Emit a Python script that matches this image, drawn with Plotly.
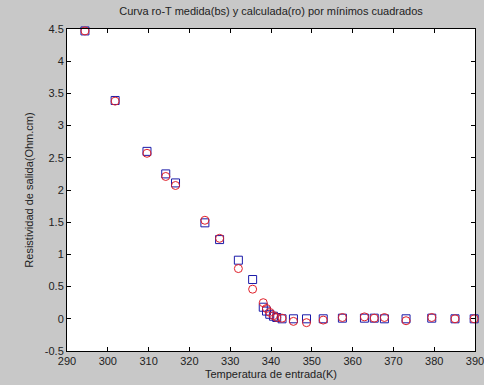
import plotly.graph_objects as go

T = [294.4, 301.8, 309.6, 314.2, 316.6, 323.8, 327.4, 332.0, 335.5, 338.1, 338.9, 339.7,
     340.6, 341.4, 342.7, 345.5, 348.7, 352.8, 357.5, 362.9, 365.3, 367.8, 373.1, 379.4,
     385.1, 389.8]
rho_medida = [4.47, 3.39, 2.60, 2.25, 2.11, 1.49, 1.23, 0.91, 0.61, 0.18, 0.12, 0.07,
              0.04, 0.02, 0.0, 0.0, 0.0, 0.0, 0.01, 0.01, 0.01, 0.0, 0.0, 0.01, 0.0, 0.0]
rho_calculada = [4.47, 3.38, 2.57, 2.21, 2.07, 1.53, 1.25, 0.78, 0.46, 0.25, 0.16, 0.10,
                 0.05, 0.02, 0.01, -0.04, -0.06, -0.02, 0.02, 0.03, 0.01, 0.02, -0.03, 0.02,
                 0.0, 0.0]
x_ticks = [290, 300, 310, 320, 330, 340, 350, 360, 370, 380, 390]
y_ticks = [-0.5, 0, 0.5, 1, 1.5, 2, 2.5, 3, 3.5, 4, 4.5]

font = "Liberation Sans, Arial, sans-serif"

fig = go.Figure()
fig.add_trace(go.Scatter(x=T, y=rho_medida, mode="markers", cliponaxis=False,
                         marker=dict(symbol="square-open", size=8, color="#1a1aa8",
                                     line=dict(width=1))))
fig.add_trace(go.Scatter(x=T, y=rho_calculada, mode="markers", cliponaxis=False,
                         marker=dict(symbol="circle-open", size=8, color="#e0202a",
                                     line=dict(width=1))))

axis_common = dict(showline=True, linecolor="black", linewidth=1, mirror="ticks",
                   ticks="inside", ticklen=4, tickcolor="black", showgrid=False,
                   zeroline=False, automargin=False, ticklabeloverflow="allow",
                   tickfont=dict(family=font, size=11, color="#222"))

fig.update_layout(
    width=484, height=385,
    margin=dict(l=67, r=9, t=29, b=34),
    paper_bgcolor="#c8c8c8", plot_bgcolor="white",
    showlegend=False,
    title=dict(text="Curva ro-T medida(bs) y calculada(ro) por mínimos cuadrados",
               x=0.56, xanchor="center", y=0.97, yanchor="middle",
               font=dict(family=font, size=11, color="#222")),
    xaxis=dict(range=[290, 390.0001], tickvals=x_ticks, ticktext=[str(v) for v in x_ticks],
               title=dict(text="Temperatura de entrada(K)", standoff=4,
                          font=dict(family=font, size=11, color="#222")),
               **axis_common),
    yaxis=dict(range=[-0.5, 4.5], tickvals=y_ticks, ticktext=[str(v) for v in y_ticks],
               title=dict(text="Resistividad de salida(Ohm.cm)", standoff=8,
                          font=dict(family=font, size=11, color="#222")),
               **axis_common),
)

fig.write_html("out.html")
